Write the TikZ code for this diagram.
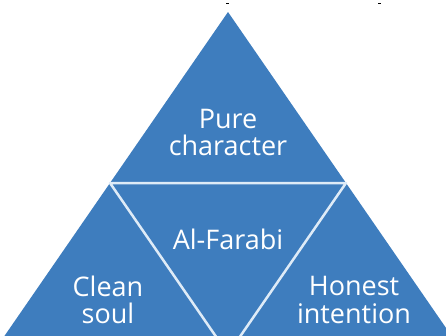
\documentclass[tikz,border=0pt]{standalone}
\usepackage{fontspec}
\setmainfont{Open Sans}
\definecolor{pyramid}{RGB}{62,125,190}
\definecolor{seam}{RGB}{222,235,247}
\begin{document}
\begin{tikzpicture}[x=1pt,y=-1pt,line join=round,line cap=round,
		part/.style={text=white,align=center,inner sep=0pt,font=\fontsize{27}{27.5}\selectfont}]
	\useasboundingbox (0,0) rectangle (446,335);
	% corners of the big triangle and of the inner one
	\coordinate (apex) at (228,12);
	\coordinate (baseL) at (-8,354);
	\coordinate (baseR) at (464,354);
	\coordinate (midL) at (110,183);
	\coordinate (midR) at (346,183);
	\coordinate (midB) at (228,354);
	\begin{scope}
		\clip (0,0) rectangle (446,335);
		\fill[pyramid] (apex) -- (baseL) -- (baseR) -- cycle;
		\draw[seam,line width=2.5pt] (midL) -- (midR) -- (midB) -- cycle;
	\end{scope}
	\node[part] (pure) at (228,132.5) {Pure\\character};
	\node[part] (farabi) at (228,239.5) {Al-Farabi};
	\node[part] (clean) at (108,300) {Clean\\soul};
	\node[part] (honest) at (354,300) {Honest\\intention};
	% small marks at the top edge
	\draw[line width=1pt,line cap=butt] (226,3) -- (229,3) (378,3) -- (381,3);
\end{tikzpicture}
\end{document}
